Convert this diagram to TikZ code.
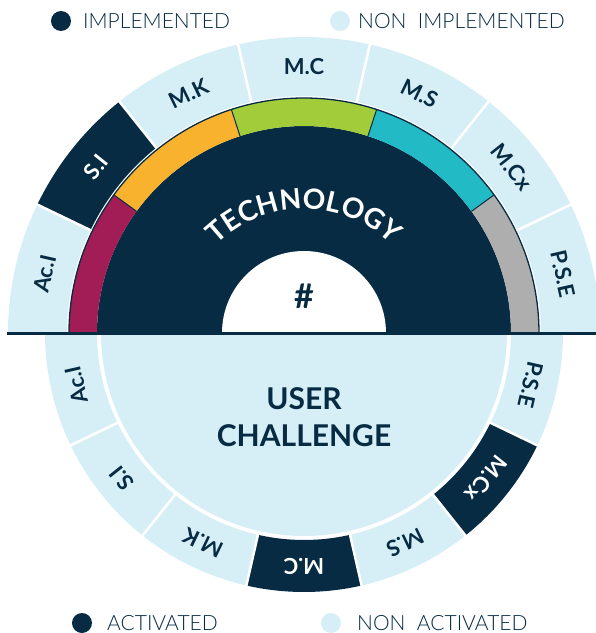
\documentclass[tikz,border=0pt]{standalone}
\usepackage{fontspec}
\setmainfont{Lato}
\IfFontExistsTF{Lato Light}{\newfontfamily\fina{Lato Light}}{\newfontfamily\fina{Lato}}
\usetikzlibrary{decorations.text}

\definecolor{navy}{HTML}{062B42}
\definecolor{celeste}{HTML}{D6EEF6}
\definecolor{granate}{HTML}{A21C55}
\definecolor{naranja}{HTML}{F8B22E}
\definecolor{verde}{HTML}{A2CC3A}
\definecolor{turquesa}{HTML}{22BAC5}
\definecolor{gris}{HTML}{AEAEAE}

\begin{document}
\begin{tikzpicture}[x=1pt, y=1pt,
  etiq/.style={font=\fontsize{22}{22}\selectfont\bfseries},
  leyenda/.style={font=\fontsize{21}{21}\selectfont\fina, text=navy, anchor=west, inner sep=0pt},
  titulo/.style={font=\fontsize{30}{37}\selectfont\bfseries, text=navy, align=center},
  sep/.style={white, line width=2.5pt}]
  \useasboundingbox (-304,-300) rectangle (292,333);
  % mitad superior: tecnologia
  \fill[navy] (207,0) arc[start angle=0, end angle=180, radius=207] -- cycle;
  \foreach \c [count=\i from 0, evaluate=\i as \a using 180-36*\i,
      evaluate=\i as \b using 144-36*\i] in {granate,naranja,verde,turquesa,gris}
    \fill[\c] (\a:207) arc[start angle=\a, end angle=\b, radius=207]
      -- (\b:235) arc[start angle=\b, end angle=\a, radius=235] -- cycle;
  \foreach \a in {144,108,72,36}
    \draw[navy, line width=1pt] (\a:207) -- (\a:235);
  \draw[navy, line width=1.3pt] (235,0) arc[start angle=0, end angle=180, radius=235];
  % anillo superior
  \foreach \t/\f/\c [count=\i from 0, evaluate=\i as \a using 180-\i*180/7,
      evaluate=\i as \b using 180-(\i+1)*180/7, evaluate=\i as \m using 180-(\i+0.5)*180/7]
      in {Ac.I/celeste/navy, S.I/navy/white, M.K/celeste/navy, M.C/celeste/navy,
          M.S/celeste/navy, M.Cx/celeste/navy, P.S.E/celeste/navy}{
    \fill[\f] (\a:237) arc[start angle=\a, end angle=\b, radius=237]
      -- (\b:296) arc[start angle=\b, end angle=\a, radius=296] -- cycle;
    \node[etiq, text=\c, rotate=\m-90] (sup\i) at (\m:266) {\t};
  }
  \foreach \i [evaluate=\i as \a using 180-\i*180/7] in {1,...,6}
    \draw[sep] (\a:236) -- (\a:298);
  \fill[white] (82,0) arc[start angle=0, end angle=180, radius=82] -- cycle;
  \node[font=\fontsize{34}{34}\selectfont\bfseries, text=navy] (almohadilla) at (0,37) {\#};
  \path[decorate, decoration={text along path, text align=center,
      text={|\fontsize{28}{28}\selectfont\bfseries\color{white}|TECHNOLOGY}}]
    (180:124) arc[start angle=180, end angle=0, radius=124];
  % mitad inferior: reto del usuario
  \fill[celeste] (-203,0) arc[start angle=180, end angle=360, radius=203] -- cycle;
  \foreach \t/\f/\c [count=\i from 0, evaluate=\i as \a using 180+\i*180/7,
      evaluate=\i as \b using 180+(\i+1)*180/7, evaluate=\i as \m using 180+(\i+0.5)*180/7]
      in {Ac.I/celeste/navy, S.I/celeste/navy, M.K/celeste/navy, M.C/navy/white,
          M.S/celeste/navy, M.Cx/navy/white, P.S.E/celeste/navy}{
    \fill[\f] (\a:207) arc[start angle=\a, end angle=\b, radius=207]
      -- (\b:259) arc[start angle=\b, end angle=\a, radius=259] -- cycle;
    \node[etiq, text=\c, rotate=\m-90] (inf\i) at (\m:233) {\t};
  }
  \foreach \i [evaluate=\i as \a using 180+\i*180/7] in {1,...,6}
    \draw[sep] (\a:206) -- (\a:261);
  \node[titulo] (usuario) at (0,-84) {USER\\CHALLENGE};
  % linea horizontal
  \draw[navy, line width=3pt] (-297,0) -- (292,0);
  % leyendas
  \fill[navy] (-243,312) circle[radius=10];
  \node[leyenda] (impl) at (-221,312) {IMPLEMENTED};
  \fill[celeste] (36,312) circle[radius=10];
  \node[leyenda] (noimpl) at (54,312) {NON\ \ IMPLEMENTED};
  \fill[navy] (-222,-290) circle[radius=10];
  \node[leyenda] (act) at (-197,-290) {ACTIVATED};
  \fill[celeste] (27,-290) circle[radius=10];
  \node[leyenda] (noact) at (53,-290) {NON\ \ ACTIVATED};
\end{tikzpicture}
\end{document}
